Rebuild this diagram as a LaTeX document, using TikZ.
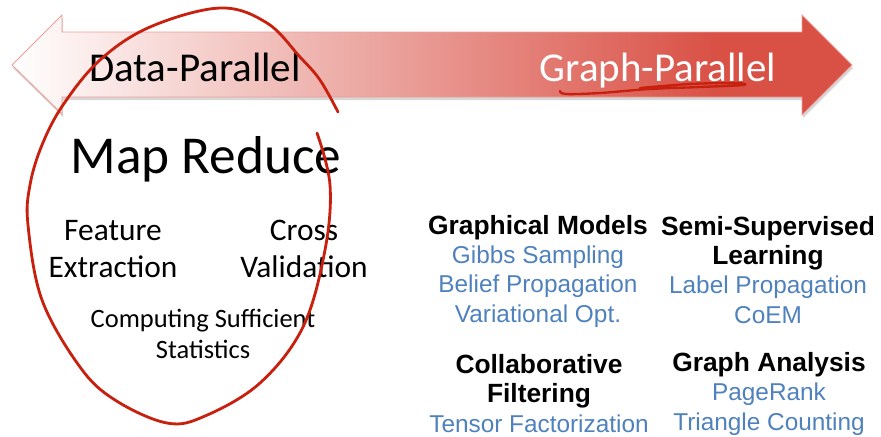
\documentclass[tikz,border=0pt]{standalone}
\usepackage{fontspec}
\setmainfont{Carlito}
\newfontfamily\arialfont{Liberation Sans}
\usetikzlibrary{positioning,calc}
\definecolor{arrowred}{HTML}{D95045}
\definecolor{inkred}{HTML}{C8200F}
\definecolor{algoblue}{HTML}{4F81BD}
\pgfdeclarehorizontalshading{arrowfade}{100bp}{color(0bp)=(white); color(25bp)=(white); color(67bp)=(arrowred); color(100bp)=(arrowred)}
\newcommand{\arrowoutline}{(12,65) -- (62,15) -- (62,32) -- (802,32) -- (802,15) -- (852,65) -- (802,115) -- (802,97) -- (62,97) -- (62,114) -- cycle}
\newcommand{\algo}[1]{\textcolor{algoblue}{#1}}
\newcommand{\gphead}[1]{{\bfseries\fontsize{22.5}{27}\selectfont #1}}
\tikzset{
  sidelabel/.style={font=\fontsize{35}{40}\selectfont,anchor=base,inner sep=0pt},
  mrtask/.style={font=\fontsize{26.8}{31.5}\selectfont,align=center,anchor=base,inner sep=0pt},
  gpgroup/.style={font=\arialfont\fontsize{20.8}{25}\selectfont,align=center,anchor=base,inner sep=0pt},
  ink/.style={draw=inkred,line width=2.4pt,line cap=round,line join=round},
}

\begin{document}
\begin{tikzpicture}[x=0.03cm,y=-0.03cm]
\useasboundingbox (0,0) rectangle (881,436);

% double arrow
\fill[black!35,opacity=0.45,shift={(1,3)}] \arrowoutline;
\shade[shading=arrowfade] \arrowoutline;
\draw[arrowred!55,line width=0.8pt] \arrowoutline;

\node[sidelabel] (dp) at (195,81) {Data-Parallel};
\node[sidelabel,text=white] (gp) at (658,81) {Graph-Parallel};

% map reduce side (base = last line)
\node[font=\fontsize{45.5}{50}\selectfont,anchor=base,inner sep=0pt] (mr) at (206,173) {Map Reduce};
\node[mrtask] (fe) at (113,277) {Feature\\Extraction};
\node[mrtask] (cv) at (304,277) {Cross\\Validation};
\node[mrtask,font=\fontsize{22.6}{26.4}\selectfont] (cs) at (203,358) {Computing Sufficient\\Statistics};

% graph parallel side
\node[gpgroup] (gm) at (538,322) {\gphead{Graphical Models}\\\algo{Gibbs Sampling}\\\algo{Belief Propagation}\\\algo{Variational Opt.}};
\node[gpgroup] (ss) at (768,323) {\gphead{Semi-Supervised}\\\gphead{Learning}\\\algo{Label Propagation}\\\algo{CoEM}};
\node[gpgroup] (cf) at (539,432) {\gphead{Collaborative}\\\gphead{Filtering}\\\algo{Tensor Factorization}};
\node[gpgroup] (ga) at (769,430) {\gphead{Graph Analysis}\\\algo{PageRank}\\\algo{Triangle Counting}};

% hand drawn marks
\draw[ink] plot[smooth,tension=0.6] coordinates {(338,112) (320,80) (300,57) (267,23) (220,8) (150,27) (100,60) (63,105) (42,145) (30,185) (28,225) (42,300) (80,367) (115,400) (167,423) (205,416) (260,383) (303,327) (325,250) (330,185) (317,133)};
\draw[ink,line width=2pt] plot[smooth,tension=0.6] coordinates {(560,91) (566,94) (600,93) (650,89) (700,87) (743,85) (735,83) (690,84) (640,88)};
\end{tikzpicture}
\end{document}
